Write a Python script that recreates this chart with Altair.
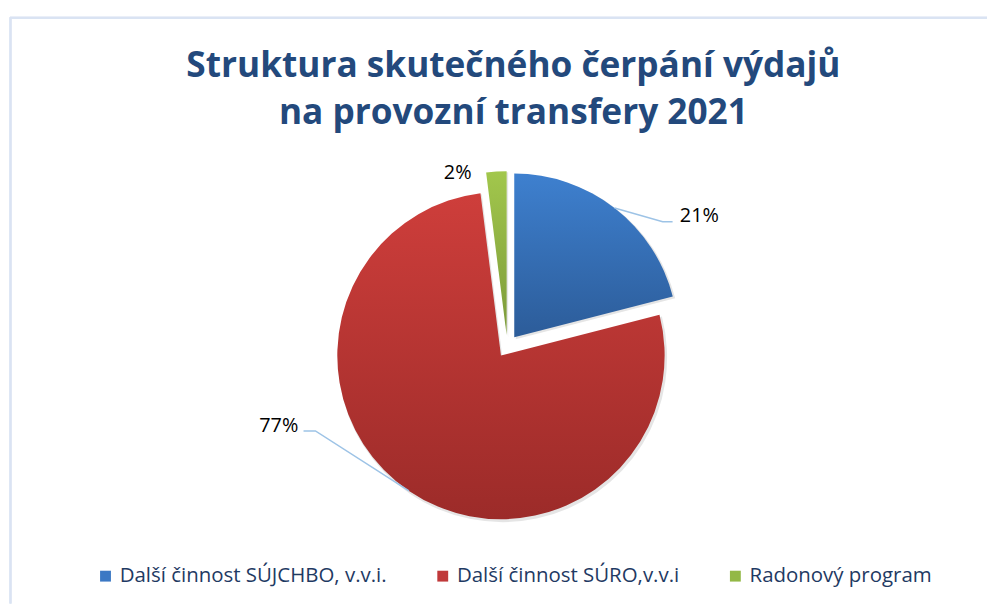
import math
import altair as alt
import pandas as pd

# ---- data ----
categories = ["Další činnost SÚJCHBO, v.v.i.", "Další činnost SÚRO,v.v.i", "Radonový program"]
shares = [21, 77, 2]
label_texts = ["21%", "77%", "2%"]

# ---- style ----
legend_colors = ["#3B78C4", "#C0393A", "#93B845"]
grad_top = ["#3E80CF", "#CE3E3B", "#A2C74C"]
grad_bot = ["#2C5C99", "#9C2B29", "#7C9A3A"]
title_color = "#23497C"
legend_text_color = "#1F3A63"
leader_color = "#9DC3E6"
border_color = "#DAE3F3"

W, H = 987, 598
CX, CY = 503.4, 338.5      # pie centre (plot coords)
R = 165                    # pie radius
EXPLODE = 11.4             # explosion distance
# label offsets from the slice's outer edge point at its mid angle
label_dxdy = [(85.5, 7.9), (-131.3, -65.5), (-39.0, 1.6)]
# leader end (bend) offset relative to label centre; None = no leader
leader_bend = [(-37, 6, -27, 6), (37, 5, 25, 5), None]

total = sum(shares)
starts, ends = [], []
acc = 0
for s in shares:
    starts.append(acc)
    acc += s
    ends.append(acc)

df = pd.DataFrame({"category": categories, "share": shares,
                   "start": starts, "end": ends, "label": label_texts})

theta_scale = alt.Scale(domain=[0, total], range=[0, 2 * math.pi])

layers = []

# border of the chart area
layers.append(alt.Chart(df).mark_rule(color=border_color, strokeWidth=2).encode(
    x=alt.value(2), x2=alt.value(W), y=alt.value(7.5)))
layers.append(alt.Chart(df).mark_rule(color=border_color, strokeWidth=2).encode(
    x=alt.value(2.5), y=alt.value(7), y2=alt.value(H)))

# invisible layer only to produce the legend
layers.append(alt.Chart(df).mark_square(opacity=0, size=1).encode(
    x=alt.value(CX), y=alt.value(CY),
    color=alt.Color("category:N", sort=categories,
                    scale=alt.Scale(domain=categories, range=legend_colors),
                    legend=alt.Legend(title=None, orient="none", direction="horizontal",
                                      legendX=88, legendY=560, symbolType="square",
                                      symbolSize=120, symbolOpacity=1, symbolStrokeWidth=0,
                                      labelFont="Open Sans", labelFontSize=20.6,
                                      labelColor=legend_text_color, columnPadding=46,
                                      labelOffset=4, padding=0, labelLimit=400))))

for i, cat in enumerate(categories):
    mid = (starts[i] + ends[i]) / 2 / total * 2 * math.pi
    ox = EXPLODE * math.sin(mid)
    oy = -EXPLODE * math.cos(mid)
    sx, sy = CX + ox, CY + oy
    sub = alt.Chart(df).transform_filter(alt.datum.category == cat)
    # soft shadow
    layers.append(sub.mark_arc(radius=R + 1, fill="#000000", opacity=0.10).encode(
        x=alt.value(sx + 1.5), y=alt.value(sy + 2),
        theta=alt.Theta("start:Q", scale=theta_scale), theta2="end:Q"))
    grad = alt.LinearGradient(gradient="linear", x1=0, y1=0, x2=0, y2=1,
                              stops=[alt.GradientStop(offset=0, color=grad_top[i]),
                                     alt.GradientStop(offset=1, color=grad_bot[i])])
    layers.append(sub.mark_arc(radius=R, fill=grad).encode(
        x=alt.value(sx), y=alt.value(sy),
        theta=alt.Theta("start:Q", scale=theta_scale), theta2="end:Q"))

    # edge point at mid angle
    ex = sx + R * math.sin(mid)
    ey = sy - R * math.cos(mid)
    ldx, ldy = label_dxdy[i]
    lx, ly = ex + ldx, ey + ldy
    layers.append(sub.mark_text(font="Open Sans", fontSize=20, color="#000000",
                                align="center", baseline="middle").encode(
        x=alt.value(lx), y=alt.value(ly), text="label:N"))
    if leader_bend[i] is not None:
        bx, by, tx, ty = leader_bend[i]
        pts = pd.DataFrame({"px": [ex, lx + bx, lx + tx], "py": [ey, ly + by, ly + ty],
                            "o": [0, 1, 2]})
        layers.append(alt.Chart(pts).mark_line(color=leader_color, strokeWidth=1.5).encode(
            x=alt.X("px:Q", scale=None), y=alt.Y("py:Q", scale=None), order="o:Q"))

chart = alt.layer(*layers).properties(
    width=W, height=H,
    autosize=alt.AutoSizeParams(type="none"),
    padding=0,
    title=alt.TitleParams(
        text=["Struktura skutečného čerpání výdajů", "na provozní transfery 2021"],
        font="Open Sans", fontSize=35.5, fontWeight="bold", color=title_color,
        anchor="middle", frame="group", orient="top", lineHeight=47,
        baseline="top", dx=16, dy=122, offset=0),
).configure_view(stroke=None)

chart.save("out.html", embed_options={"renderer": "svg", "actions": False})
